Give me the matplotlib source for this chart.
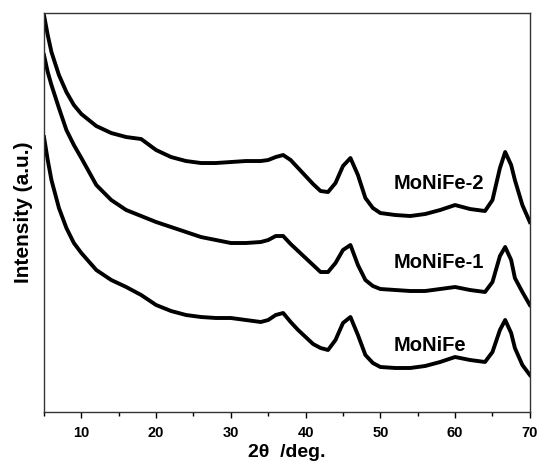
import matplotlib
matplotlib.use("Agg")
import matplotlib.pyplot as plt
from matplotlib.ticker import MultipleLocator

# 2theta positions
two_theta = [5, 5.5, 6, 7, 8, 9, 10,
             12, 14, 16, 18, 20, 22, 24, 26, 28, 30, 32, 34,
             35, 36, 37, 38, 39, 40, 41, 42, 43, 44, 45, 46, 47, 48, 49, 50,
             52, 54, 56, 58, 60, 62, 64,
             65, 66, 66.7, 67.5, 68, 69, 70]

# intensities (a.u., already offset as stacked in the figure)
moni_fe_2 = [397, 377, 360, 337, 320, 307, 298,
             286, 279, 275, 273, 262, 255, 251, 249, 249, 250, 251, 251,
             252, 255, 257, 252, 244, 236, 228, 221, 220, 229, 246, 254, 237, 214, 204, 199,
             197, 196, 198, 202, 207, 203, 201,
             212, 244, 260, 247, 232, 207, 190]
moni_fe_1 = [357, 340, 327, 304, 282, 267, 254,
             227, 212, 202, 196, 190, 185, 180, 175, 172, 169, 169, 170,
             172, 176, 176, 168, 161, 154, 147, 140, 140, 149, 162, 167, 147, 132, 126, 123,
             122, 121, 121, 123, 125, 122, 120,
             130, 156, 165, 152, 134, 120, 107]
moni_fe = [275, 252, 232, 204, 184, 169, 159,
           142, 132, 125, 117, 107, 101, 97, 95, 94, 94, 92, 90,
           92, 97, 99, 90, 82, 75, 68, 64, 62, 72, 89, 95, 77, 57, 49, 45,
           44, 44, 46, 50, 55, 52, 50,
           60, 82, 92, 79, 64, 47, 37]

labels = ["MoNiFe-2", "MoNiFe-1", "MoNiFe"]
label_y = [229, 150, 67]

plt.rcParams['font.family'] = ['Liberation Sans', 'DejaVu Sans']
plt.rcParams['font.weight'] = 'bold'

fig = plt.figure(figsize=(5.39, 4.66), dpi=100)
ax = fig.add_axes([0.0816, 0.1159, 0.9014, 0.8561])

for series in [moni_fe_2, moni_fe_1, moni_fe]:
    ax.plot(two_theta, series, color='black', linewidth=2.8, solid_joinstyle='round')

for text, y in zip(labels, label_y):
    ax.text(51.8, y, text, fontsize=14.5, fontweight='bold', va='center', ha='left')

ax.set_xlim(5, 70)
ax.set_ylim(0, 399)
ax.xaxis.set_major_locator(MultipleLocator(10))
ax.xaxis.set_minor_locator(MultipleLocator(5))
ax.set_yticks([])
ax.tick_params(axis='x', which='major', direction='out', length=4, width=1, labelsize=10.5, pad=6)
ax.tick_params(axis='x', which='minor', direction='out', length=3, width=1)
for lab in ax.get_xticklabels():
    lab.set_fontweight('bold')
for sp in ax.spines.values():
    sp.set_linewidth(1.0)
    sp.set_color('#333333')

ax.set_xlabel('2θ  /deg.', fontsize=14, fontweight='bold', labelpad=3)
ax.set_ylabel('Intensity (a.u.)', fontsize=15, fontweight='bold', labelpad=8)

fig.savefig('out.png', dpi=100)
